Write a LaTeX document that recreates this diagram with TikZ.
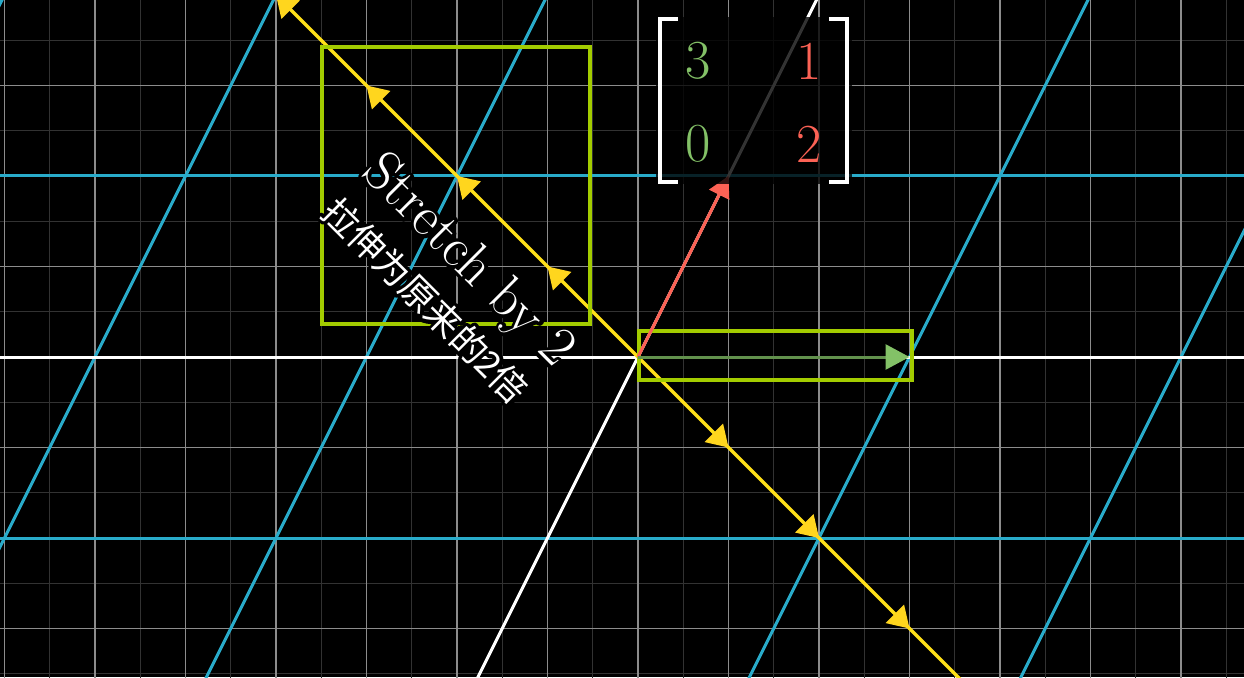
\documentclass[tikz,border=0pt]{standalone}
\usepackage{fontspec}
\newfontfamily\cjk{Noto Sans CJK SC}
\usetikzlibrary{arrows.meta}
\definecolor{dimgridc}{RGB}{50,50,50}
\definecolor{gridc}{RGB}{140,140,140}
\definecolor{tblue}{RGB}{41,171,202}
\definecolor{eyellow}{RGB}{255,224,25}
\definecolor{ayellow}{RGB}{255,214,30}
\definecolor{vred}{RGB}{252,98,85}
\definecolor{vgreen}{RGB}{131,193,103}
\definecolor{boxgreen}{RGB}{163,204,0}
\newcommand{\haloedtext}[1]{\leavevmode\rlap{\color{black}\special{pdf:literal direct 1 Tr 7 w 1 j}#1\special{pdf:literal direct 0 Tr}}#1}
\tikzset{
  dimgrid/.style={draw=dimgridc, line width=1.4pt},
  maingrid/.style={draw=gridc, line width=1.4pt},
  tline/.style={draw=tblue, line width=3pt},
  axisline/.style={draw=white, line width=3pt},
  eigline/.style={draw=eyellow, line width=3.2pt},
  eighead/.style={fill=ayellow},
  hlbox/.style={draw=boxgreen, line width=3.5pt},
  redvec/.style={draw=vred, line width=3pt, -{Triangle[length=21pt,width=22pt]}},
  greenvec/.style={draw=vgreen!75!black, line width=3pt, -{Triangle[length=24pt,width=25pt,color=vgreen]}},
  bracket/.style={draw=white, line width=4.5pt},
  entry/.style={font=\fontsize{55}{55}\selectfont, inner sep=0pt},
}
\begin{document}
\begin{tikzpicture}[x=90.5pt,y=90.5pt]
\useasboundingbox (-7.0497,-3.5359) rectangle (6.6961,3.9448);
\fill[black] (-7.0497,-3.5359) rectangle (6.6961,3.9448);
\clip (-7.0497,-3.5359) rectangle (6.6961,3.9448);
% background grid
\foreach \x in {-6.5,-5.5,...,6.5} \draw[dimgrid] (\x,-4) -- (\x,4);
\foreach \y in {-3.5,-2.5,...,3.5} \draw[dimgrid] (-8,\y) -- (8,\y);
\foreach \x in {-7,...,6} \draw[maingrid] (\x,-4) -- (\x,4);
\foreach \y in {-3,...,3} \draw[maingrid] (-8,\y) -- (8,\y);
% transformed grid
\foreach \k in {-3,-2,-1,1,2} \draw[tline] ({3*\k-2.5},-5) -- ({3*\k+2.5},5);
\draw[tline] (-8,2) -- (8,2);
\draw[tline] (-8,-2) -- (8,-2);
% axes
\draw[axisline] (-8,0) -- (8,0);
\draw[axisline] (-2.5,-5) -- (2.5,5);
% eigenvector line
\draw[eigline] (-5,5) -- (5,-5);
\foreach \k in {1,2,3}
  \fill[eighead, shift={(\k,-\k)}, rotate=-45] (0,0) -- (-0.23,0.145) -- (-0.23,-0.145) -- cycle;
\foreach \k in {1,2,3,4}
  \fill[eighead, shift={(-\k,\k)}, rotate=135] (0,0) -- (-0.23,0.145) -- (-0.23,-0.145) -- cycle;
% highlight boxes
\draw[hlbox] (-3.492,0.365) rectangle (-0.530,3.425);
\draw[hlbox] (0.011,-0.254) rectangle (3.028,0.287);
% basis vectors
\coordinate (O) at (0,0);
\coordinate (ihat) at (3,0);
\coordinate (jhat) at (1,2);
\draw[redvec] (O) -- (jhat);
\draw[greenvec] (O) -- (ihat);
% matrix
\fill[black, opacity=0.8] (0.199,1.912) rectangle (2.365,3.757);
\draw[bracket] (0.442,3.735) -- (0.243,3.735) -- (0.243,1.934) -- (0.442,1.934);
\draw[bracket] (2.110,3.735) -- (2.309,3.735) -- (2.309,1.934) -- (2.110,1.934);
\node[entry, text=vgreen] (m11) at (0.668,3.270) {3};
\node[entry, text=vred] (m12) at (1.890,3.270) {1};
\node[entry, text=vgreen] (m21) at (0.668,2.355) {0};
\node[entry, text=vred] (m22) at (1.890,2.355) {2};
% labels
\node[rotate=-45, text=white, font=\fontsize{56}{56}\selectfont] (stretch) at (-1.890,1.050) {\haloedtext{Stretch by 2}};
\node[rotate=-45, text=white, font=\cjk\fontsize{36}{36}\selectfont] (cn) at (-2.345,0.625) {\haloedtext{拉伸为原来的2倍}};
\end{tikzpicture}
\end{document}
